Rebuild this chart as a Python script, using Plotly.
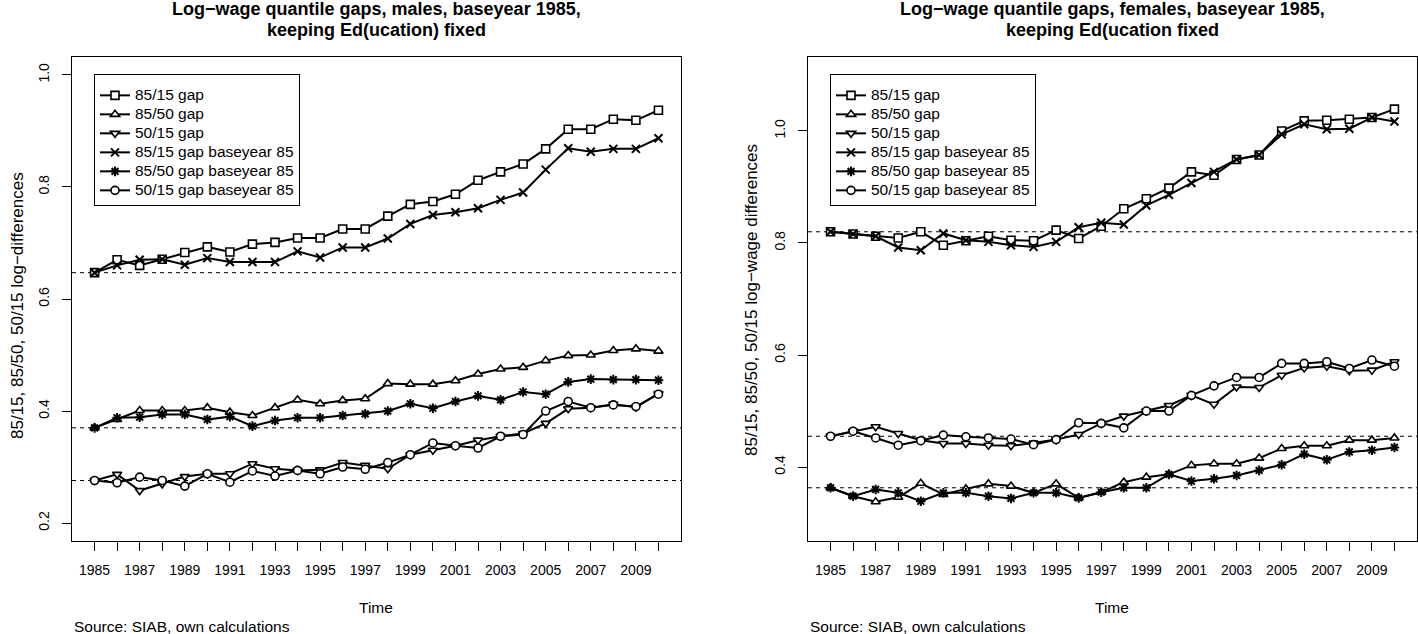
import plotly.graph_objects as go

years = list(range(1985, 2011))
x_tick_labels = [str(y) if (y - 1985) % 2 == 0 and y < 2010 else "" for y in years]

# males
m_8515 = [0.647, 0.670, 0.660, 0.671, 0.683, 0.693, 0.684, 0.698, 0.701, 0.709, 0.709, 0.725, 0.725,
          0.748, 0.769, 0.774, 0.787, 0.812, 0.827, 0.841, 0.868, 0.903, 0.903, 0.921, 0.919, 0.937]
m_8550 = [0.370, 0.385, 0.401, 0.401, 0.401, 0.406, 0.398, 0.392, 0.406, 0.420, 0.413, 0.419, 0.422,
          0.449, 0.448, 0.448, 0.454, 0.466, 0.475, 0.478, 0.490, 0.499, 0.500, 0.508, 0.511, 0.507]
m_5015 = [0.276, 0.287, 0.258, 0.270, 0.283, 0.288, 0.288, 0.306, 0.297, 0.294, 0.295, 0.308, 0.303,
          0.297, 0.322, 0.330, 0.338, 0.348, 0.355, 0.360, 0.378, 0.404, 0.406, 0.412, 0.407, 0.431]
m_8515_b = [0.647, 0.660, 0.670, 0.671, 0.661, 0.673, 0.666, 0.666, 0.666, 0.685, 0.674, 0.692, 0.692,
            0.708, 0.734, 0.750, 0.755, 0.762, 0.777, 0.790, 0.831, 0.869, 0.863, 0.868, 0.868, 0.887]
m_8550_b = [0.370, 0.388, 0.389, 0.394, 0.394, 0.385, 0.390, 0.373, 0.383, 0.388, 0.388, 0.392, 0.395,
            0.400, 0.413, 0.405, 0.417, 0.427, 0.420, 0.434, 0.430, 0.452, 0.457, 0.456, 0.456, 0.455]
m_5015_b = [0.276, 0.272, 0.282, 0.276, 0.266, 0.288, 0.273, 0.293, 0.284, 0.294, 0.288, 0.300, 0.296,
            0.308, 0.322, 0.343, 0.338, 0.334, 0.355, 0.358, 0.400, 0.417, 0.406, 0.411, 0.408, 0.430]

# females
f_8515 = [0.820, 0.816, 0.812, 0.809, 0.820, 0.796, 0.804, 0.812, 0.805, 0.804, 0.823, 0.808, 0.830,
          0.861, 0.879, 0.898, 0.927, 0.921, 0.949, 0.957, 1.000, 1.018, 1.019, 1.021, 1.024, 1.039]
f_8550 = [0.363, 0.348, 0.338, 0.346, 0.371, 0.351, 0.361, 0.370, 0.366, 0.354, 0.370, 0.345, 0.355,
          0.373, 0.382, 0.387, 0.403, 0.406, 0.406, 0.416, 0.433, 0.438, 0.438, 0.448, 0.448, 0.452]
f_5015 = [0.455, 0.464, 0.472, 0.460, 0.448, 0.442, 0.442, 0.439, 0.438, 0.443, 0.449, 0.458, 0.478,
          0.491, 0.500, 0.510, 0.528, 0.512, 0.543, 0.542, 0.564, 0.577, 0.580, 0.572, 0.573, 0.588]
f_8515_b = [0.820, 0.816, 0.812, 0.792, 0.787, 0.817, 0.805, 0.802, 0.796, 0.793, 0.802, 0.828, 0.836,
            0.833, 0.867, 0.886, 0.907, 0.927, 0.949, 0.957, 0.994, 1.012, 1.003, 1.004, 1.024, 1.017]
f_8550_b = [0.363, 0.348, 0.360, 0.354, 0.339, 0.354, 0.354, 0.348, 0.344, 0.354, 0.354, 0.345, 0.355,
            0.363, 0.363, 0.387, 0.375, 0.379, 0.385, 0.394, 0.404, 0.423, 0.413, 0.427, 0.430, 0.435]
f_5015_b = [0.455, 0.464, 0.452, 0.439, 0.447, 0.457, 0.454, 0.452, 0.450, 0.440, 0.449, 0.479, 0.478,
            0.470, 0.500, 0.500, 0.528, 0.545, 0.560, 0.560, 0.585, 0.585, 0.588, 0.576, 0.591, 0.580]

series_names = ["85/15 gap", "85/50 gap", "50/15 gap",
                "85/15 gap baseyear 85", "85/50 gap baseyear 85", "50/15 gap baseyear 85"]
symbols = ["square", "triangle-up", "triangle-down", "x-thin", "asterisk", "circle"]

title_lines_m = ["Log−wage quantile gaps, males, baseyear 1985,", "keeping Ed(ucation) fixed"]
title_lines_f = ["Log−wage quantile gaps, females, baseyear 1985,", "keeping Ed(ucation fixed"]

FONT = "Liberation Sans, Arial, Helvetica, sans-serif"
W, H = 1418, 634

fig = go.Figure()

panels = [
    dict(data=[m_8515, m_8550, m_5015, m_8515_b, m_8550_b, m_5015_b], xa="x", ya="y", legend="legend"),
    dict(data=[f_8515, f_8550, f_5015, f_8515_b, f_8550_b, f_5015_b], xa="x2", ya="y2", legend="legend2"),
]

for p in panels:
    for name, sym, vals in zip(series_names, symbols, p["data"]):
        thin = sym in ("x-thin", "asterisk")
        fig.add_trace(go.Scatter(
            x=years, y=vals, name='<span style="font-size:15.5px">%s</span>' % name,
            mode="lines+markers",
            xaxis=p["xa"], yaxis=p["ya"], legend=p["legend"],
            line=dict(color="black", width=2),
            marker=dict(symbol=sym, size=8,
                        color="white" if not thin else "black",
                        line=dict(color="black", width=1.6 if not thin else 2)),
        ))
    for vals in p["data"][:3]:
        fig.add_shape(type="line", xref=p["xa"] + " domain", yref=p["ya"],
                      x0=0, x1=1, y0=vals[0], y1=vals[0],
                      line=dict(color="black", width=1, dash="4px,4px"), layer="below")


def px_x(v):
    return v / W


def px_y(v):
    return 1 - v / H


left_dom = [px_x(72), px_x(681)]
right_dom = [px_x(808), px_x(1417)]
y_dom = [px_y(541), px_y(57)]

axis_common = dict(showline=True, linecolor="black", linewidth=1, mirror=True,
                   showgrid=False, zeroline=False, ticks="outside", ticklen=9,
                   tickcolor="black", tickfont=dict(family=FONT, size=14, color="black"))

legend_common = dict(xanchor="left", yanchor="top", bordercolor="black", borderwidth=1,
                     bgcolor="white", font=dict(family=FONT, size=12, color="black"),
                     itemwidth=30, title=dict(text=" ", font=dict(size=4.5)))

fig.update_layout(
    width=W, height=H,
    margin=dict(l=0, r=0, t=0, b=0),
    paper_bgcolor="white", plot_bgcolor="white",
    font=dict(family=FONT, color="black"),
    xaxis=dict(domain=left_dom, range=[1984, 2011], tickvals=years, ticktext=x_tick_labels,
               ticklabelstandoff=7, anchor="y", **axis_common),
    yaxis=dict(domain=y_dom, range=[0.168, 1.032], tickvals=[0.2, 0.4, 0.6, 0.8, 1.0],
               tickformat=".1f", tickangle=-90, ticklabelstandoff=7, anchor="x", **axis_common),
    xaxis2=dict(domain=right_dom, range=[1984, 2011], tickvals=years, ticktext=x_tick_labels,
                ticklabelstandoff=7, anchor="y2", **axis_common),
    yaxis2=dict(domain=y_dom, range=[0.268, 1.132], tickvals=[0.4, 0.6, 0.8, 1.0],
                tickformat=".1f", tickangle=-90, ticklabelstandoff=7, anchor="x2", **axis_common),
    legend=dict(x=px_x(94), y=px_y(74), **legend_common),
    legend2=dict(x=px_x(830), y=px_y(74), **legend_common),
    showlegend=True,
)

annotations = []
for cx, lines in ((376.5, title_lines_m), (1112, title_lines_f)):
    for ty, line in zip((9, 30), lines):
        annotations.append(dict(text="<b>%s</b>" % line, x=px_x(cx), y=px_y(ty), font=dict(size=18)))
annotations += [
    dict(text="85/15, 85/50, 50/15 log−differences", x=px_x(17), y=px_y(306),
         textangle=-90, font=dict(size=17)),
    dict(text="85/15, 85/50, 50/15 log−wage differences", x=px_x(752), y=px_y(300),
         textangle=-90, font=dict(size=17)),
    dict(text="Time", x=px_x(376.5), y=px_y(607), font=dict(size=15.5)),
    dict(text="Time", x=px_x(1112), y=px_y(607), font=dict(size=15.5)),
]
for a in annotations:
    a.update(xref="paper", yref="paper", showarrow=False, xanchor="center", yanchor="middle")
    a["font"] = dict(family=FONT, color="black", **a["font"])
for xs in (72, 808):
    annotations.append(dict(text="Source: SIAB, own calculations", x=px_x(xs), y=px_y(626),
                            xref="paper", yref="paper", showarrow=False, xanchor="left",
                            yanchor="middle", font=dict(family=FONT, size=15.5, color="black")))
fig.update_layout(annotations=annotations)

fig.write_html("out.html", config={"displayModeBar": False},
               post_script="document.body.style.margin='0';document.body.style.overflow='hidden';")
